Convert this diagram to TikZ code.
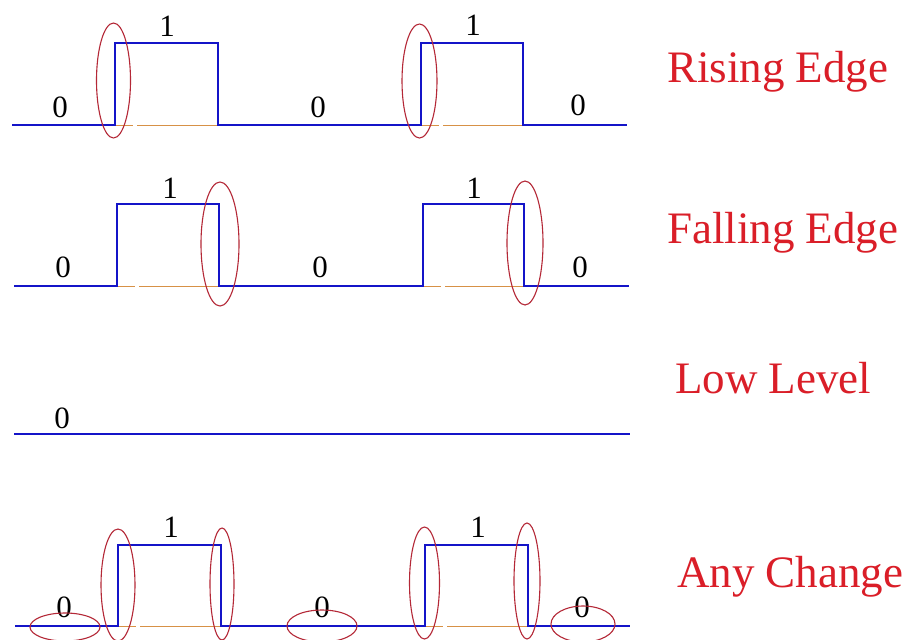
\documentclass[tikz,border=0pt]{standalone}
\usepackage{fontspec}
\setmainfont{Liberation Serif}
\definecolor{sigblue}{RGB}{20,20,200}
\definecolor{ellred}{RGB}{180,40,55}
\definecolor{lblred}{RGB}{218,30,40}
\definecolor{refor}{RGB}{215,145,70}
\tikzset{
  sig/.style={draw=sigblue, line width=2.6pt, line join=miter},
  ref/.style={draw=refor, line width=0.7pt, dash pattern=on 18pt off 4pt on 80pt off 4pt},
  ell/.style={draw=ellred, line width=1.1pt},
  bit/.style={anchor=base, inner sep=0pt, font=\fontsize{31}{36}\selectfont},
  mode/.style={anchor=base west, inner sep=0pt, text=lblred, font=\fontsize{45}{54}\selectfont}
}
\begin{document}
\begin{tikzpicture}[x=1pt,y=-1pt]
\useasboundingbox[fill=white] (0,0) rectangle (911,640);

% ---------- Row 1: rising edge ----------
\coordinate (r1a) at (12,125);
\coordinate (r1b) at (115,125);
\coordinate (r1c) at (218,125);
\coordinate (r1d) at (421,125);
\coordinate (r1e) at (523,125);
\coordinate (r1f) at (627,125);
\draw[ref] (r1b) -- (r1c);
\draw[ref] (r1d) -- (r1e);
\draw[sig] (r1a) -- (r1b) -- ++(0,-82) -| (r1c) -- (r1d) -- ++(0,-82) -| (r1e) -- (r1f);
\draw[ell] (113.5,80.5) ellipse [x radius=17pt, y radius=57.5pt];
\draw[ell] (419.5,81) ellipse [x radius=17.5pt, y radius=57pt];
\node[bit] (b1a) at (60,117) {0};
\node[bit] (b1b) at (167,36) {1};
\node[bit] (b1c) at (318,117) {0};
\node[bit] (b1d) at (473,35) {1};
\node[bit] (b1e) at (578,115) {0};
\node[mode] (m1) at (667,82) {Rising Edge};

% ---------- Row 2: falling edge ----------
\coordinate (r2a) at (14,286);
\coordinate (r2b) at (117,286);
\coordinate (r2c) at (219,286);
\coordinate (r2d) at (423,286);
\coordinate (r2e) at (524,286);
\coordinate (r2f) at (629,286);
\draw[ref] (r2b) -- (r2c);
\draw[ref] (r2d) -- (r2e);
\draw[sig] (r2a) -- (r2b) -- ++(0,-82) -| (r2c) -- (r2d) -- ++(0,-82) -| (r2e) -- (r2f);
\draw[ell] (220,244) ellipse [x radius=19pt, y radius=62pt];
\draw[ell] (525,243) ellipse [x radius=18pt, y radius=62pt];
\node[bit] (b2a) at (63,277) {0};
\node[bit] (b2b) at (170,198) {1};
\node[bit] (b2c) at (320,277) {0};
\node[bit] (b2d) at (474,198) {1};
\node[bit] (b2e) at (580,277) {0};
\node[mode] (m2) at (667,243) {Falling Edge};

% ---------- Row 3: low level ----------
\coordinate (r3a) at (14,434);
\coordinate (r3f) at (630,434);
\draw[draw=sigblue, line width=1.8pt] (r3a) -- (r3f);
\node[bit] (b3a) at (62,428) {0};
\node[mode] (m3) at (675,393) {Low Level};

% ---------- Row 4: any change ----------
\coordinate (r4a) at (15,626);
\coordinate (r4b) at (118,626);
\coordinate (r4c) at (221,626);
\coordinate (r4d) at (425,626);
\coordinate (r4e) at (528,626);
\coordinate (r4f) at (630,626);
\draw[ref] (r4b) -- (r4c);
\draw[ref] (r4d) -- (r4e);
\draw[sig] (r4a) -- (r4b) -- ++(0,-81) -| (r4c) -- (r4d) -- ++(0,-81) -| (r4e) -- (r4f);
\node[bit] (b4a) at (64,617) {0};
\node[bit] (b4b) at (171,537) {1};
\node[bit] (b4c) at (322,617) {0};
\node[bit] (b4d) at (478,537) {1};
\node[bit] (b4e) at (582,617) {0};
\draw[ell] (118,585) ellipse [x radius=17pt, y radius=56pt];
\draw[ell] (222,584) ellipse [x radius=12pt, y radius=56pt];
\draw[ell] (424.5,583) ellipse [x radius=15pt, y radius=56pt];
\draw[ell] (527,581) ellipse [x radius=13pt, y radius=58pt];
\draw[ell] (65,627) ellipse [x radius=35pt, y radius=14pt];
\draw[ell] (322,626) ellipse [x radius=35pt, y radius=16pt];
\draw[ell] (583,624) ellipse [x radius=32pt, y radius=18pt];
\node[mode] (m4) at (677,587) {Any Change};
\end{tikzpicture}
\end{document}
